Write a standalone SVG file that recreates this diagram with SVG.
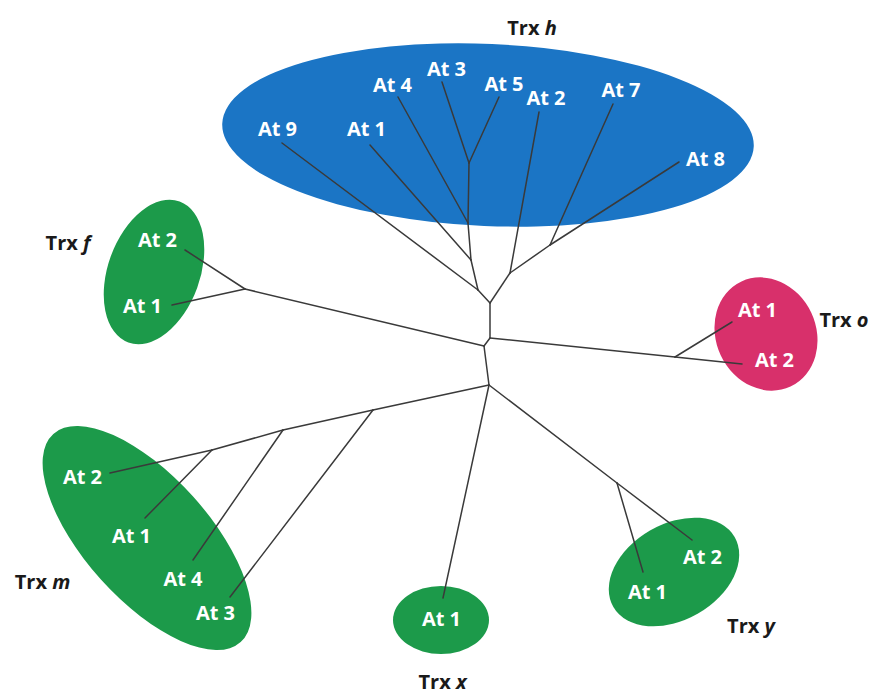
<svg xmlns="http://www.w3.org/2000/svg" width="872" height="694" viewBox="0 0 872 694">
<style>
.blue{fill:#1b75c5}
.green{fill:#1c9a4a}
.pink{fill:#d8306b}
.leaf{font-family:"Open Sans","Liberation Sans",sans-serif;font-weight:700;font-size:20px;fill:#ffffff;text-anchor:middle}
.title{font-family:"Open Sans","Liberation Sans",sans-serif;font-weight:700;font-size:20px;fill:#1a1a1a;text-anchor:middle}
.it{font-style:italic}
#connectors line{stroke:#3a3a3a;stroke-width:1.5;stroke-linecap:round;fill:none}
</style>
<rect width="872" height="694" fill="#ffffff"/>

<g id="trx-h">
  <ellipse class="blue" cx="488" cy="135" rx="266" ry="91" transform="rotate(2.5 488 135)"/>
  <text class="title" x="532" y="35">Trx <tspan class="it">h</tspan></text>
  <text class="leaf" x="277.5" y="136">At 9</text>
  <text class="leaf" x="366.5" y="136">At 1</text>
  <text class="leaf" x="392.5" y="92">At 4</text>
  <text class="leaf" x="446.5" y="76">At 3</text>
  <text class="leaf" x="504" y="91">At 5</text>
  <text class="leaf" x="546" y="105">At 2</text>
  <text class="leaf" x="621" y="97">At 7</text>
  <text class="leaf" x="705.5" y="166">At 8</text>
</g>

<g id="trx-f">
  <ellipse class="green" cx="154" cy="272" rx="46" ry="75" transform="rotate(20 154 272)"/>
  <text class="title" x="68" y="250">Trx <tspan class="it">f</tspan></text>
  <text class="leaf" x="157.5" y="247">At 2</text>
  <text class="leaf" x="142.5" y="313">At 1</text>
</g>

<g id="trx-o">
  <ellipse class="pink" cx="766" cy="334" rx="50" ry="58" transform="rotate(-25 766 334)"/>
  <text class="title" x="844" y="327">Trx <tspan class="it">o</tspan></text>
  <text class="leaf" x="757.5" y="317">At 1</text>
  <text class="leaf" x="774.5" y="367">At 2</text>
</g>

<g id="trx-m">
  <ellipse class="green" cx="147" cy="538" rx="140" ry="62" transform="rotate(48 147 538)"/>
  <text class="title" x="42.5" y="589">Trx <tspan class="it">m</tspan></text>
  <text class="leaf" x="82.5" y="484">At 2</text>
  <text class="leaf" x="131.5" y="543">At 1</text>
  <text class="leaf" x="183" y="586">At 4</text>
  <text class="leaf" x="215.5" y="620">At 3</text>
</g>

<g id="trx-x">
  <ellipse class="green" cx="441" cy="620" rx="48" ry="34"/>
  <text class="title" x="442.5" y="689">Trx <tspan class="it">x</tspan></text>
  <text class="leaf" x="441.5" y="626">At 1</text>
</g>

<g id="trx-y">
  <ellipse class="green" cx="674" cy="572" rx="70" ry="48" transform="rotate(-30 674 572)"/>
  <text class="title" x="751" y="633">Trx <tspan class="it">y</tspan></text>
  <text class="leaf" x="702.5" y="564">At 2</text>
  <text class="leaf" x="647.5" y="599">At 1</text>
</g>

<g id="connectors">
  <line x1="442" y1="82" x2="469" y2="163"/>
  <line x1="499" y1="97" x2="469" y2="163"/>
  <line x1="469" y1="163" x2="468" y2="223"/>
  <line x1="398" y1="97" x2="468" y2="223"/>
  <line x1="468" y1="223" x2="471" y2="260"/>
  <line x1="370" y1="145" x2="471" y2="260"/>
  <line x1="471" y1="260" x2="478" y2="290"/>
  <line x1="282" y1="143" x2="478" y2="290"/>
  <line x1="478" y1="290" x2="490" y2="303"/>
  <line x1="539" y1="112" x2="510" y2="273"/>
  <line x1="613" y1="104" x2="550" y2="245"/>
  <line x1="679" y1="162" x2="550" y2="245"/>
  <line x1="550" y1="245" x2="510" y2="273"/>
  <line x1="510" y1="273" x2="490" y2="303"/>
  <line x1="490" y1="303" x2="490" y2="338"/>
  <line x1="490" y1="338" x2="484" y2="346"/>
  <line x1="490" y1="338" x2="675" y2="357"/>
  <line x1="675" y1="357" x2="732" y2="322"/>
  <line x1="675" y1="357" x2="742" y2="364"/>
  <line x1="484" y1="346" x2="245" y2="289"/>
  <line x1="245" y1="289" x2="185" y2="250"/>
  <line x1="245" y1="289" x2="172" y2="305"/>
  <line x1="484" y1="346" x2="489" y2="385"/>
  <line x1="489" y1="385" x2="373" y2="410"/>
  <line x1="373" y1="410" x2="283" y2="430"/>
  <line x1="283" y1="430" x2="212" y2="450"/>
  <line x1="212" y1="450" x2="110" y2="473"/>
  <line x1="212" y1="450" x2="145" y2="518"/>
  <line x1="283" y1="430" x2="193" y2="560"/>
  <line x1="373" y1="410" x2="230" y2="597"/>
  <line x1="489" y1="385" x2="443" y2="598"/>
  <line x1="489" y1="385" x2="617" y2="483"/>
  <line x1="617" y1="483" x2="692" y2="540"/>
  <line x1="617" y1="483" x2="643" y2="572"/>
</g>
</svg>
